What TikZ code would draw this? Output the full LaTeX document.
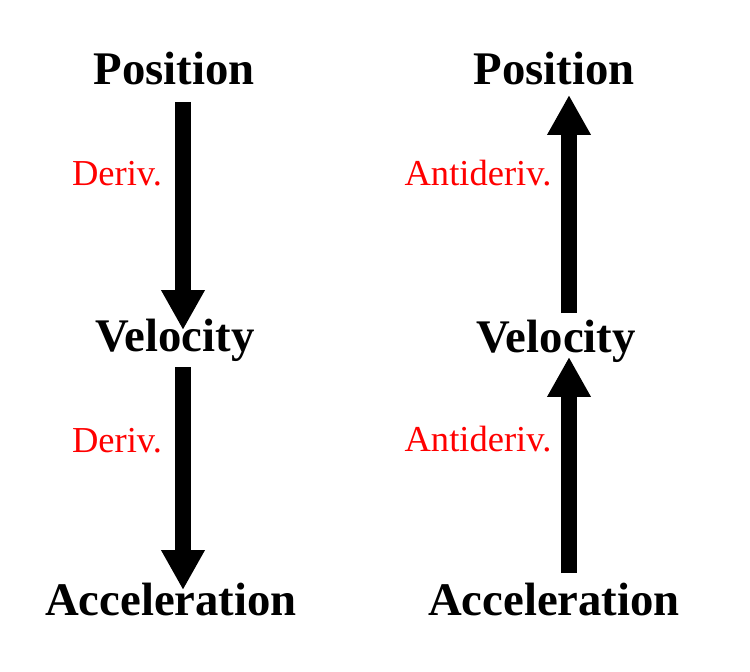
\documentclass[tikz,border=0pt]{standalone}
\usepackage{fontspec}
\setmainfont{Liberation Serif}
\usetikzlibrary{arrows.meta,calc}

\tikzstyle{quantity}=[inner sep=0pt,outer sep=0pt,anchor=base,
    font=\fontsize{26.6}{30}\selectfont\bfseries]
\tikzstyle{operation}=[inner sep=0pt,outer sep=0pt,anchor=base,
    text=red,font=\fontsize{20.8}{24}\selectfont]
\tikzstyle{transition}=[line width=0.32cm,
    -{Triangle[length=0.8cm,width=0.82cm]}]
\newcommand{\quantity}[3]{
    \node[quantity] (#2) at (#1) {#3};
}
\newcommand{\operation}[3]{
    \node[operation] (#2) at (#1) {#3};
}
\newcommand{\link}[4]{
    \draw[transition] ($(#1)+(#2)$) -- ($(#3)+(#4)$);
}

\begin{document}
\begin{tikzpicture}[x=0.02cm,y=-0.02cm]
    \useasboundingbox (0,0) rectangle (750,672);
    %
    \quantity{174,85}{posL}{Position}
    \quantity{175,351}{velL}{Velocity}
    \quantity{171,615}{accL}{Acceleration}
    %
    \quantity{554,85}{posR}{Position}
    \quantity{556,352}{velR}{Velocity}
    \quantity{554,615}{accR}{Acceleration}
    %
    \operation{117,186}{derivA}{Deriv.}
    \operation{117,452}{derivB}{Deriv.}
    \operation{478,186}{antiA}{Antideriv.}
    \operation{478,451}{antiB}{Antideriv.}
    %
    \link{posL.base}{9,17}{velL.base}{8,-21}
    \link{velL.base}{8,16}{accL.base}{12,-25}
    %
    \link{velR.base}{13,-39}{posR.base}{15,10}
    \link{accR.base}{15,-42}{velR.base}{13,5}
\end{tikzpicture}
\end{document}
